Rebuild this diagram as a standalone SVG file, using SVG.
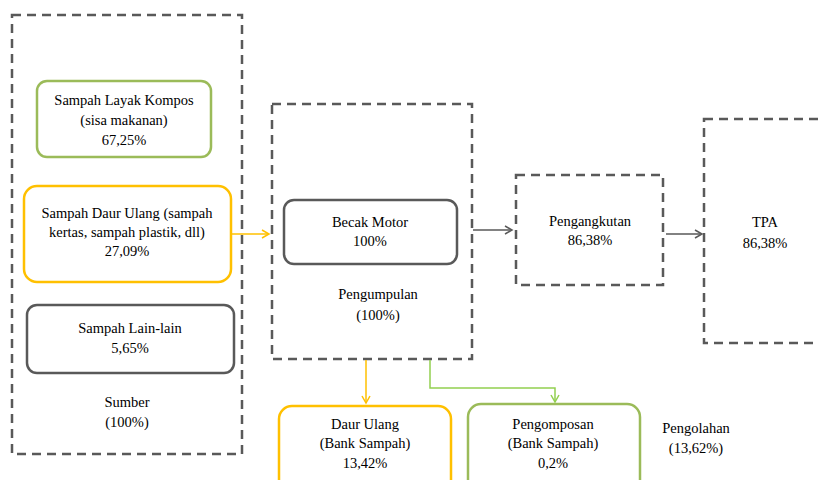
<svg xmlns="http://www.w3.org/2000/svg" width="818" height="480" viewBox="0 0 818 480">
<defs>
<style>
.dash{fill:none;stroke:#595959;stroke-width:2.5;stroke-dasharray:9 6}
.box{fill:#fff;stroke-width:2.5}
.g{stroke:#9BBB59}
.y{stroke:#FFC000}
.k{stroke:#595959}
text{font-family:"Times New Roman","Liberation Serif",serif;font-size:14.5px;fill:#000;text-anchor:middle}
.c{fill:none;stroke-width:1.5}
</style>
<marker id="ak" markerWidth="10" markerHeight="10" refX="8" refY="5" orient="auto" markerUnits="userSpaceOnUse"><path d="M1,1 L8,5 L1,9" fill="none" stroke="#595959" stroke-width="1.5"/></marker>
<marker id="ay" markerWidth="10" markerHeight="10" refX="8" refY="5" orient="auto" markerUnits="userSpaceOnUse"><path d="M1,1 L8,5 L1,9" fill="none" stroke="#FFC000" stroke-width="1.5"/></marker>
<marker id="ag" markerWidth="10" markerHeight="10" refX="8" refY="5" orient="auto" markerUnits="userSpaceOnUse"><path d="M1,1 L8,5 L1,9" fill="none" stroke="#92D050" stroke-width="1.5"/></marker>
</defs>
<rect width="818" height="480" fill="#fff"/>
<g id="sumber">
<rect class="dash" x="12" y="15" width="230" height="439"/>
<text x="127" y="407">Sumber</text>
<text x="127" y="427">(100%)</text>
</g>
<g id="kompos">
<rect class="box g" x="37" y="81" width="174" height="76" rx="10"/>
<text x="124" y="105">Sampah Layak Kompos</text>
<text x="124" y="125">(sisa makanan)</text>
<text x="124" y="145">67,25%</text>
</g>
<g id="daurulang">
<rect class="box y" x="24" y="186" width="207" height="96" rx="13"/>
<text x="127" y="218">Sampah Daur Ulang (sampah</text>
<text x="127" y="237">kertas, sampah plastik, dll)</text>
<text x="127" y="256">27,09%</text>
</g>
<g id="lainlain">
<rect class="box k" x="27" y="305" width="207" height="68" rx="10"/>
<text x="130" y="333">Sampah Lain-lain</text>
<text x="130" y="353">5,65%</text>
</g>
<g id="pengumpulan">
<rect class="dash" x="272" y="104" width="200" height="255"/>
<text x="378" y="299">Pengumpulan</text>
<text x="378" y="320">(100%)</text>
</g>
<g id="becak">
<rect class="box k" x="284" y="200" width="173" height="64" rx="10"/>
<text x="370" y="227">Becak Motor</text>
<text x="370" y="246">100%</text>
</g>
<g id="pengangkutan">
<rect class="dash" x="516" y="175" width="147" height="110"/>
<text x="590" y="226">Pengangkutan</text>
<text x="590" y="245">86,38%</text>
</g>
<g id="tpa">
<rect class="dash" x="704" y="119" width="130" height="224"/>
<text x="765" y="227">TPA</text>
<text x="765" y="248">86,38%</text>
</g>
<g id="bank-daur">
<rect class="box y" x="279" y="406" width="172" height="90" rx="13"/>
<text x="365" y="429">Daur Ulang</text>
<text x="365" y="448">(Bank Sampah)</text>
<text x="365" y="468">13,42%</text>
</g>
<g id="bank-kompos">
<rect class="box g" x="468" y="404" width="172" height="92" rx="13"/>
<text x="553" y="429">Pengomposan</text>
<text x="553" y="448">(Bank Sampah)</text>
<text x="553" y="468">0,2%</text>
</g>
<g id="pengolahan">
<text x="696" y="433">Pengolahan</text>
<text x="696" y="453">(13,62%)</text>
</g>
<g id="connectors">
<path class="c" stroke="#FFC000" d="M231,234 L269,234" marker-end="url(#ay)"/>
<path class="c" stroke="#595959" d="M473,230 L512,230" marker-end="url(#ak)"/>
<path class="c" stroke="#595959" d="M666,234 L702,234" marker-end="url(#ak)"/>
<path class="c" stroke="#FFC000" d="M366,360 L366,403" marker-end="url(#ay)"/>
<path class="c" stroke="#92D050" d="M430,360 L430,388 L555,388 L555,402" marker-end="url(#ag)"/>
</g>
</svg>
